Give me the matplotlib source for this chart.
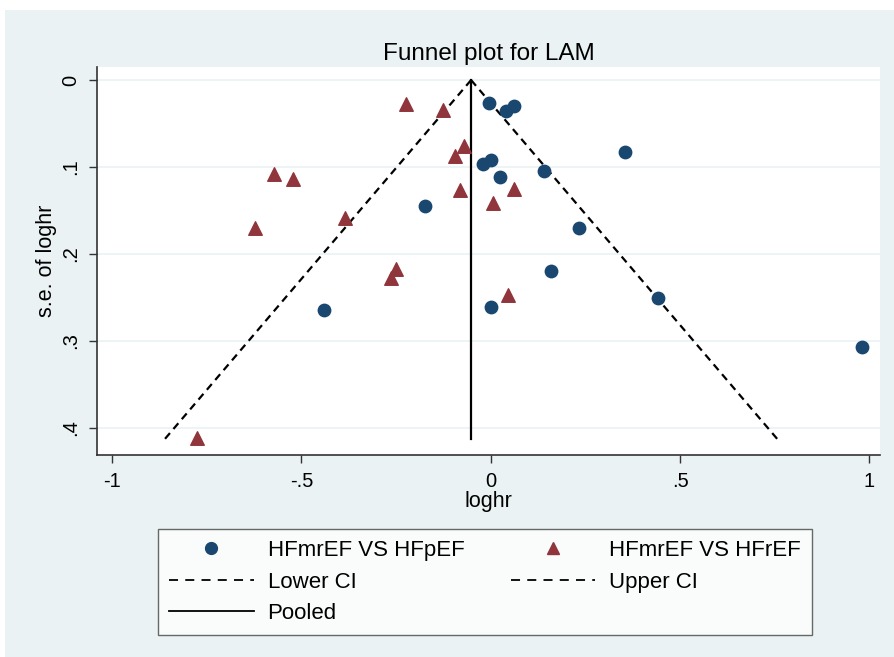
import matplotlib.pyplot as plt
from matplotlib.patches import Rectangle
from matplotlib.lines import Line2D

plt.rcParams['font.family'] = ['Liberation Sans', 'DejaVu Sans']

# HFmrEF VS HFpEF (circles)
pef_loghr = [-0.006, 0.041, 0.061, 0.355, -0.021, 0.001, 0.025, 0.140, -0.175,
             0.234, 0.160, 0.442, 0.001, 0.980, -0.440]
pef_se = [0.026, 0.036, 0.030, 0.083, 0.096, 0.092, 0.112, 0.105, 0.145,
          0.170, 0.219, 0.250, 0.261, 0.307, 0.264]

# HFmrEF VS HFrEF (triangles)
ref_loghr = [-0.223, -0.126, -0.072, -0.094, -0.081, 0.061, 0.007, 0.045,
             -0.572, -0.523, -0.624, -0.384, -0.249, -0.263, -0.776]
ref_se = [0.028, 0.035, 0.076, 0.087, 0.126, 0.125, 0.141, 0.247,
          0.108, 0.114, 0.170, 0.159, 0.217, 0.227, 0.412]

# funnel: pooled estimate and 95% limits
pooled = -0.052
z = 1.96
se_range = [0.0, 0.413]

xticks = [-1, -0.5, 0, 0.5, 1]
xtick_labels = ['-1', '-.5', '0', '.5', '1']
yticks = [0, 0.1, 0.2, 0.3, 0.4]
ytick_labels = ['0', '.1', '.2', '.3', '.4']

navy = '#1A476F'
maroon = '#90353B'
bg = '#EAF2F3'

fig = plt.figure(figsize=(8.94, 6.57), dpi=100)
fig.patch.set_facecolor('white')
fig.patches.append(Rectangle((5 / 894, 0), 889 / 894, 647 / 657, transform=fig.transFigure,
                             facecolor=bg, edgecolor='none', zorder=-10))

ax = fig.add_axes([97 / 894, 202 / 657, 783 / 894, 388 / 657])
ax.set_facecolor('white')

lower = [pooled - z * s for s in se_range]
upper = [pooled + z * s for s in se_range]

ax.scatter(pef_loghr, pef_se, s=80, marker='o', color=navy, zorder=3)
ax.scatter(ref_loghr, ref_se, s=95, marker='^', color=maroon, zorder=3)
ax.plot(lower, se_range, color='black', lw=1.6, dashes=(3.4, 2.4), zorder=2)
ax.plot(upper, se_range, color='black', lw=1.6, dashes=(3.4, 2.4), zorder=2)
ax.plot([pooled, pooled], se_range, color='black', lw=1.6, zorder=2)

ax.set_xlim(-1.040, 1.028)
ax.set_ylim(0.431, -0.015)
ax.set_xticks(xticks)
ax.set_xticklabels(xtick_labels, fontsize=14.5)
ax.set_yticks(yticks)
ax.set_yticklabels(ytick_labels, fontsize=14.5, rotation=90, va='center')
ax.yaxis.grid(True, color=bg, lw=1.2)
ax.set_axisbelow(True)
ax.tick_params(direction='out', length=6, width=1, color='#333333', pad=6)

for side in ['top', 'right']:
    ax.spines[side].set_visible(False)
for side in ['left', 'bottom']:
    ax.spines[side].set_color('#333333')
    ax.spines[side].set_linewidth(1.2)

ax.set_title('Funnel plot for LAM', fontsize=17.5, pad=5)
ax.set_xlabel('loghr', fontsize=15.5, labelpad=0)
ax.set_ylabel('s.e. of loghr', fontsize=15.5, labelpad=3)

handles = [
    Line2D([], [], ls='none', marker='o', color=navy, markersize=8.5),
    Line2D([], [], color='black', lw=1.3, dashes=(5, 4)),
    Line2D([], [], color='black', lw=1.3),
    Line2D([], [], ls='none', marker='^', color=maroon, markersize=9),
    Line2D([], [], color='black', lw=1.3, dashes=(5, 4)),
]
labels = ['HFmrEF VS HFpEF', 'Lower CI', 'Pooled', 'HFmrEF VS HFrEF', 'Upper CI']
leg = fig.legend(handles, labels, ncol=2, loc='upper left',
                 bbox_to_anchor=(158 / 894, 1 - 529 / 657), borderaxespad=0,
                 fontsize=16, frameon=True, fancybox=False,
                 handlelength=3.8, handletextpad=0.63, labelspacing=0.47,
                 borderpad=0.5, columnspacing=2.1)
leg.get_frame().set_edgecolor('#444444')
leg.get_frame().set_linewidth(1.0)
leg.get_frame().set_facecolor('white')

fig.savefig('out.png', dpi=100, facecolor=fig.get_facecolor())
